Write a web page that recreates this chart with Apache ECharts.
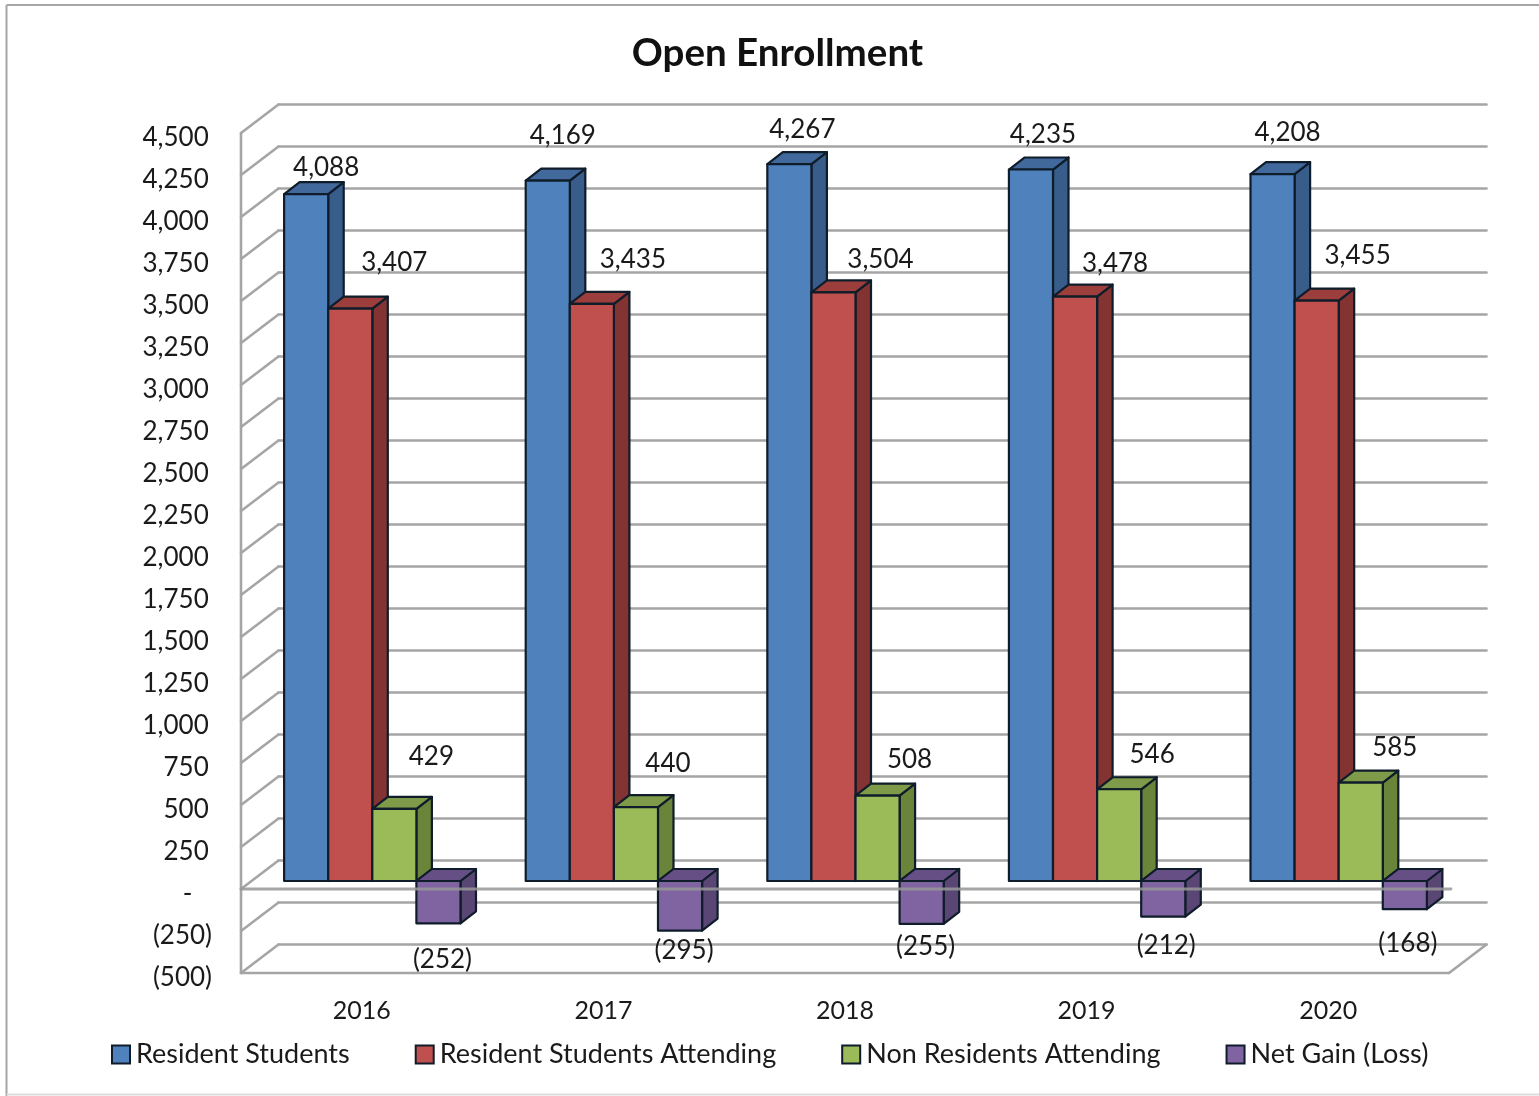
<!DOCTYPE html>
<html>
<head>
<meta charset="utf-8">
<title>Open Enrollment</title>
<script src="https://cdn.jsdelivr.net/npm/echarts@6/dist/echarts.min.js"></script>
<style>
  html, body { margin: 0; padding: 0; background: #fff; overflow: hidden; }
  #chart { width: 1539px; height: 1096px; }
</style>
</head>
<body>
<div id="chart"></div>
<script>
// Enrollment figures by school year
const years = ['2016', '2017', '2018', '2019', '2020'];
const residentStudents = [4088, 4169, 4267, 4235, 4208];
const residentAttending = [3407, 3435, 3504, 3478, 3455];
const nonResidentsAttending = [429, 440, 508, 546, 585];
const netGainLoss = [-252, -295, -255, -212, -168];
const valueTicks = [-500, -250, 0, 250, 500, 750, 1000, 1250, 1500, 1750, 2000,
  2250, 2500, 2750, 3000, 3250, 3500, 3750, 4000, 4250, 4500];

// Hand-placed data label offsets from each bar's end, in pixels
const residentLabelShift = [[20, -27], [15, -45], [13, -35], [12, -35], [15, -41]];
const attendingLabelShift = [[44, -46], [41, -44], [47, -33], [40, -33], [41, -45]];
const nonResidentLabelShift = [[37, -52], [32, -43], [32, -36], [33, -35], [34, -35]];
const netLabelShift = [[4, 36], [4, 20], [4, 23], [3, 29], [3, 34]];

const FONT = 'Lato';
const TEXT = '#1a1a1a';
const WALL = '#a5a5a5';
const EDGE = '#0f1c2a';
// Pseudo-3D projection: how far the back wall and the bar depth are shifted
const WALL_DX = 37.5, WALL_DY = -28.5;
const BAR_DX = 15.5, BAR_DY = -12;
const PLANE_DX = 10.5, PLANE_DY = -8;
const BAR_BAND_SHARE = 0.1825;

const fmtNumber = v => {
  const s = Math.abs(v).toString().replace(/\B(?=(\d{3})+$)/g, ',');
  return v < 0 ? '(' + s + ')' : s;
};

function lineEl(x1, y1, x2, y2, stroke, width) {
  return { type: 'line', shape: { x1, y1, x2, y2 },
    style: { stroke: stroke || WALL, lineWidth: width || 2.6, lineCap: 'round' } };
}

// Back wall, side wall and floor rulings, one set per axis tick
function renderWallTick(params, api) {
  const cs = params.coordSys;
  const v = api.value(1);
  const y = api.coord([0, v])[1];
  const left = cs.x, right = cs.x + cs.width;
  const kids = [
    lineEl(left, y, left + WALL_DX, y + WALL_DY),
    lineEl(left + WALL_DX, y + WALL_DY, right + WALL_DX, y + WALL_DY)
  ];
  if (params.dataIndex === 0) {
    kids.push(lineEl(left, y, right, y));
    kids.push(lineEl(right, y, right + WALL_DX, y + WALL_DY));
    kids.push(lineEl(left, y, left, cs.y));
  }
  return { type: 'group', children: kids };
}

// Front edge of the zero plane, laid over the bars
function renderZeroLine(params, api) {
  const cs = params.coordSys;
  const y = api.coord([0, 0])[1];
  return lineEl(cs.x, y, cs.x + cs.width + 2, y, 'rgba(150,150,150,0.85)', 2.8);
}

function makeBarSeries(name, values, seriesIndex, colors, shifts) {
  return {
    type: 'custom',
    name,
    clip: false,
    silent: true,
    z: 3 + seriesIndex,
    itemStyle: { color: colors.front, borderColor: EDGE, borderWidth: 2 },
    encode: { x: 0, y: 1 },
    data: values.map((v, i) => [i, v]),
    renderItem(params, api) {
      const idx = api.value(0), v = api.value(1);
      const band = api.size([1, 0])[0];
      const w = band * BAR_BAND_SHARE;
      const cx = api.coord([idx, 0])[0];
      const x0 = cx + PLANE_DX + (seriesIndex - 2) * w;
      const x1 = x0 + w;
      const y0 = api.coord([idx, 0])[1] + PLANE_DY;
      const yv = api.coord([idx, v])[1] + PLANE_DY;
      const top = Math.min(y0, yv), bottom = Math.max(y0, yv);
      const poly = (points, fill) => ({
        type: 'polygon', shape: { points },
        style: { fill, stroke: EDGE, lineWidth: 2.2, lineJoin: 'round' }
      });
      const shift = shifts[params.dataIndex];
      const anchorY = v < 0 ? bottom : top;
      return {
        type: 'group',
        children: [
          poly([[x1, top], [x1 + BAR_DX, top + BAR_DY], [x1 + BAR_DX, bottom + BAR_DY], [x1, bottom]], colors.side),
          poly([[x0, top], [x0 + BAR_DX, top + BAR_DY], [x1 + BAR_DX, top + BAR_DY], [x1, top]], colors.top),
          poly([[x0, top], [x1, top], [x1, bottom], [x0, bottom]], colors.front),
          {
            type: 'text',
            z2: 50,
            style: {
              text: fmtNumber(v),
              x: (x0 + x1) / 2 + shift[0],
              y: anchorY + shift[1],
              align: 'center',
              verticalAlign: 'middle',
              fontFamily: FONT,
              fontSize: 26,
              fill: TEXT
            }
          }
        ]
      };
    }
  };
}

const chart = echarts.init(document.getElementById('chart'));
chart.setOption({
  animation: false,
  backgroundColor: '#fff',
  title: {
    text: 'Open Enrollment',
    left: 772.5,
    top: 29,
    textAlign: 'center',
    textStyle: { fontFamily: FONT, fontWeight: 'bold', fontSize: 38.5, color: '#111' }
  },
  legend: {
    left: 106,
    top: 1036,
    itemWidth: 18,
    itemHeight: 18,
    itemGap: 65,
    icon: 'rect',
    textStyle: { fontFamily: FONT, fontSize: 27, color: TEXT, padding: [0, 0, 0, 1] },
    data: ['Resident Students', 'Resident Students Attending', 'Non Residents Attending', 'Net Gain (Loss)']
  },
  grid: { left: 241, right: 90, top: 133, bottom: 123 },
  xAxis: {
    type: 'category',
    data: years,
    axisLine: { show: false, onZero: false },
    axisTick: { show: false },
    axisLabel: { margin: 25, fontFamily: FONT, fontSize: 25, color: TEXT }
  },
  yAxis: {
    type: 'value',
    min: -500,
    max: 4500,
    interval: 250,
    axisLine: { show: false },
    axisTick: { show: false },
    splitLine: { show: false },
    axisLabel: {
      margin: 29,
      verticalAlign: 'top',
      lineHeight: 9,
      fontFamily: FONT,
      fontSize: 26,
      color: TEXT,
      formatter: v => v === 0 ? '-\u2003' : (v < 0 ? fmtNumber(v) : fmtNumber(v) + '\u2009')
    }
  },
  graphic: [
    { type: 'line', shape: { x1: 6.5, y1: 5, x2: 1539, y2: 5 }, style: { stroke: '#a6a6a6', lineWidth: 2 } },
    { type: 'line', shape: { x1: 6.5, y1: 5, x2: 6.5, y2: 1096 }, style: { stroke: '#a6a6a6', lineWidth: 2 } },
    { type: 'line', shape: { x1: 6.5, y1: 1094.5, x2: 1539, y2: 1094.5 }, style: { stroke: '#dcdcdc', lineWidth: 2 } }
  ],
  series: [
    {
      type: 'custom',
      name: 'walls',
      silent: true,
      clip: false,
      z: 1,
      encode: { x: 0, y: 1 },
      data: valueTicks.map(v => [0, v]),
      renderItem: renderWallTick
    },
    makeBarSeries('Resident Students', residentStudents, 0,
      { front: '#4f81bd', side: '#385d8a', top: '#41699c' }, residentLabelShift),
    makeBarSeries('Resident Students Attending', residentAttending, 1,
      { front: '#c0504d', side: '#833331', top: '#9c3e3b' }, attendingLabelShift),
    makeBarSeries('Non Residents Attending', nonResidentsAttending, 2,
      { front: '#9bbb59', side: '#6a8439', top: '#7f9a48' }, nonResidentLabelShift),
    makeBarSeries('Net Gain (Loss)', netGainLoss, 3,
      { front: '#8064a2', side: '#5a4675', top: '#664f84' }, netLabelShift),
    {
      type: 'custom',
      name: 'zero plane',
      silent: true,
      clip: false,
      z: 9,
      encode: { x: 0, y: 1 },
      data: [[0, 0]],
      renderItem: renderZeroLine
    }
  ]
});
</script>
</body>
</html>
